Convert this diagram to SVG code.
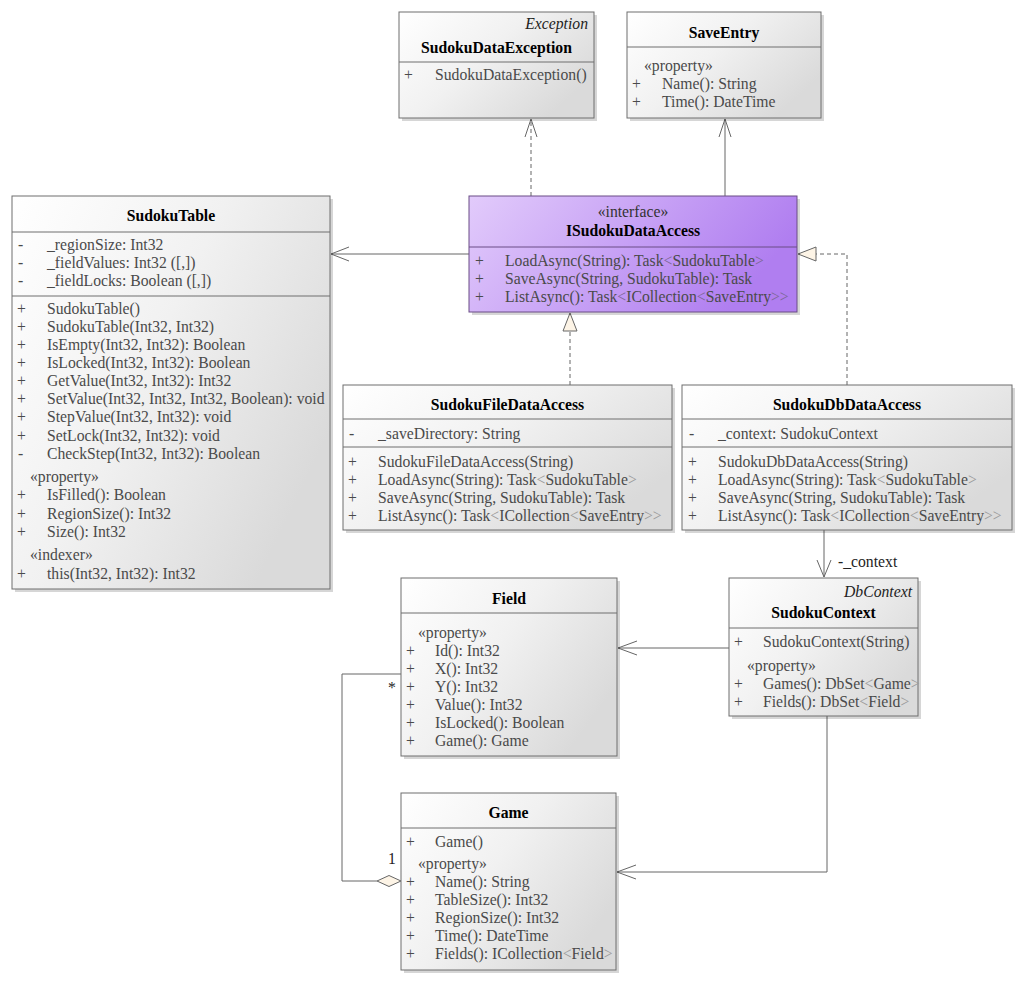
<svg xmlns="http://www.w3.org/2000/svg" width="1024" height="983" viewBox="0 0 1024 983">
<defs>
<linearGradient id="g" x1="0" y1="0" x2="1" y2="0.6">
<stop offset="0" stop-color="#ffffff"/>
<stop offset="0.5" stop-color="#f1f1f1"/>
<stop offset="1" stop-color="#dadada"/>
</linearGradient>
<linearGradient id="gp" x1="0" y1="0" x2="1" y2="0.3">
<stop offset="0" stop-color="#e2cbfb"/>
<stop offset="1" stop-color="#b07ef0"/>
</linearGradient>
</defs>
<style>
.box{fill:url(#g);stroke:#6e6e6e;stroke-width:1}
.pbox{fill:url(#gp);stroke:#6a4d86;stroke-width:1}
.sh{fill:#000;opacity:0.16}
.dv{stroke:#6e6e6e;stroke-width:1}
.pdv{stroke:#6a4d86;stroke-width:1}
text{font-family:"Liberation Serif","Times New Roman",serif;font-size:15.7px;fill:#4a4a4a}
.b{font-weight:bold;fill:#000;text-anchor:middle}
.i{font-style:italic;fill:#222;text-anchor:end}
.c{text-anchor:middle}
.lt{fill:#9a9a9a}
.plt{fill:#7d6896}
.ln{stroke:#666;stroke-width:1;fill:none}
.da{stroke-dasharray:4 3}
.tri{fill:#fdf4e6;stroke:#666;stroke-width:1}
.lbl{fill:#222}
</style>
<rect width="1024" height="983" fill="#fff"/>

<g id="connectors">
<path class="ln da" d="M531,196 V119"/>
<path class="ln" d="M525,137 L531,119 L537,137"/>
<path class="ln" d="M725,196 V119"/>
<path class="ln" d="M719,137 L725,119 L731,137"/>
<path class="ln" d="M469,254 H331"/>
<path class="ln" d="M349,247 L331,254 L349,261"/>
<path class="ln da" d="M570,385 V331"/>
<path class="tri" d="M570,313 L577,331 L563,331 Z"/>
<path class="ln da" d="M847,385 V254 H816"/>
<path class="tri" d="M798,254 L816,247 L816,261 Z"/>
<path class="ln" d="M824,530 V577"/>
<path class="ln" d="M817,560 L824,577 L831,560"/>
<text class="lbl" x="838" y="567">-_context</text>
<path class="ln" d="M729,648 H618"/>
<path class="ln" d="M637,641 L618,648 L637,655"/>
<path class="ln" d="M827,716 V872 H617"/>
<path class="ln" d="M636,865 L617,872 L636,879"/>
<path class="ln" d="M401,674 H342 V881 H377"/>
<path class="tri" d="M377,881 L389,875.5 L401,881 L389,886.5 Z"/>
<text class="lbl" x="388" y="693">*</text>
<text class="lbl" x="388" y="864">1</text>
</g>

<g id="SudokuDataException">
<rect class="sh" x="402" y="15" width="195" height="106"/>
<rect class="box" x="399" y="12" width="195" height="106"/>
<line class="dv" x1="399" y1="62" x2="594" y2="62"/>
<text class="i" x="588" y="29">Exception</text>
<text class="b" x="496.5" y="53">SudokuDataException</text>
<text x="404" y="80">+</text><text x="435" y="80">SudokuDataException()</text>
</g>

<g id="SaveEntry">
<rect class="sh" x="630" y="15" width="194" height="106"/>
<rect class="box" x="627" y="12" width="194" height="106"/>
<line class="dv" x1="627" y1="47" x2="821" y2="47"/>
<text class="b" x="724" y="38">SaveEntry</text>
<text x="644" y="71">«property»</text>
<text x="632" y="89">+</text><text x="662" y="89">Name(): String</text>
<text x="632" y="107">+</text><text x="662" y="107">Time(): DateTime</text>
</g>

<g id="SudokuTable">
<rect class="sh" x="15" y="199" width="318" height="393"/>
<rect class="box" x="12" y="196" width="318" height="393"/>
<line class="dv" x1="12" y1="232" x2="330" y2="232"/>
<line class="dv" x1="12" y1="296" x2="330" y2="296"/>
<text class="b" x="171" y="221">SudokuTable</text>
<text x="18" y="250">-</text><text x="47" y="250">_regionSize: Int32</text>
<text x="18" y="268">-</text><text x="47" y="268">_fieldValues: Int32 ([,])</text>
<text x="18" y="286">-</text><text x="47" y="286">_fieldLocks: Boolean ([,])</text>
<text x="17" y="314">+</text><text x="47" y="314">SudokuTable()</text>
<text x="17" y="332">+</text><text x="47" y="332">SudokuTable(Int32, Int32)</text>
<text x="17" y="350">+</text><text x="47" y="350">IsEmpty(Int32, Int32): Boolean</text>
<text x="17" y="368">+</text><text x="47" y="368">IsLocked(Int32, Int32): Boolean</text>
<text x="17" y="386">+</text><text x="47" y="386">GetValue(Int32, Int32): Int32</text>
<text x="17" y="404">+</text><text x="47" y="404">SetValue(Int32, Int32, Int32, Boolean): void</text>
<text x="17" y="422">+</text><text x="47" y="422">StepValue(Int32, Int32): void</text>
<text x="17" y="441">+</text><text x="47" y="441">SetLock(Int32, Int32): void</text>
<text x="18" y="459">-</text><text x="47" y="459">CheckStep(Int32, Int32): Boolean</text>
<text x="30" y="482">«property»</text>
<text x="17" y="500">+</text><text x="47" y="500">IsFilled(): Boolean</text>
<text x="17" y="519">+</text><text x="47" y="519">RegionSize(): Int32</text>
<text x="17" y="537">+</text><text x="47" y="537">Size(): Int32</text>
<text x="30" y="560">«indexer»</text>
<text x="17" y="579">+</text><text x="47" y="579">this(Int32, Int32): Int32</text>
</g>

<g id="ISudokuDataAccess">
<rect class="sh" x="472" y="199" width="328" height="116"/>
<rect class="pbox" x="469" y="196" width="328" height="116"/>
<line class="pdv" x1="469" y1="247" x2="797" y2="247"/>
<text class="c" x="633" y="217" style="fill:#333">«interface»</text>
<text class="b" x="633" y="236">ISudokuDataAccess</text>
<text x="475" y="266">+</text><text x="505" y="266">LoadAsync(String): Task<tspan class="plt">&lt;</tspan>SudokuTable<tspan class="plt">&gt;</tspan></text>
<text x="475" y="284">+</text><text x="505" y="284">SaveAsync(String, SudokuTable): Task</text>
<text x="475" y="302">+</text><text x="505" y="302">ListAsync(): Task<tspan class="plt">&lt;</tspan>ICollection<tspan class="plt">&lt;</tspan>SaveEntry<tspan class="plt">&gt;&gt;</tspan></text>
</g>

<g id="SudokuFileDataAccess">
<rect class="sh" x="346" y="388" width="329" height="145"/>
<rect class="box" x="343" y="385" width="329" height="145"/>
<line class="dv" x1="343" y1="419" x2="672" y2="419"/>
<line class="dv" x1="343" y1="447" x2="672" y2="447"/>
<text class="b" x="507.5" y="410">SudokuFileDataAccess</text>
<text x="349" y="439">-</text><text x="378" y="439">_saveDirectory: String</text>
<text x="348" y="467">+</text><text x="378" y="467">SudokuFileDataAccess(String)</text>
<text x="348" y="485">+</text><text x="378" y="485">LoadAsync(String): Task<tspan class="lt">&lt;</tspan>SudokuTable<tspan class="lt">&gt;</tspan></text>
<text x="348" y="503">+</text><text x="378" y="503">SaveAsync(String, SudokuTable): Task</text>
<text x="348" y="521">+</text><text x="378" y="521">ListAsync(): Task<tspan class="lt">&lt;</tspan>ICollection<tspan class="lt">&lt;</tspan>SaveEntry<tspan class="lt">&gt;&gt;</tspan></text>
</g>

<g id="SudokuDbDataAccess">
<rect class="sh" x="685" y="388" width="330" height="145"/>
<rect class="box" x="682" y="385" width="330" height="145"/>
<line class="dv" x1="682" y1="419" x2="1012" y2="419"/>
<line class="dv" x1="682" y1="447" x2="1012" y2="447"/>
<text class="b" x="847" y="410">SudokuDbDataAccess</text>
<text x="689" y="439">-</text><text x="718" y="439">_context: SudokuContext</text>
<text x="688" y="467">+</text><text x="718" y="467">SudokuDbDataAccess(String)</text>
<text x="688" y="485">+</text><text x="718" y="485">LoadAsync(String): Task<tspan class="lt">&lt;</tspan>SudokuTable<tspan class="lt">&gt;</tspan></text>
<text x="688" y="503">+</text><text x="718" y="503">SaveAsync(String, SudokuTable): Task</text>
<text x="688" y="521">+</text><text x="718" y="521">ListAsync(): Task<tspan class="lt">&lt;</tspan>ICollection<tspan class="lt">&lt;</tspan>SaveEntry<tspan class="lt">&gt;&gt;</tspan></text>
</g>

<g id="Field">
<rect class="sh" x="404" y="581" width="216" height="178"/>
<rect class="box" x="401" y="578" width="216" height="178"/>
<line class="dv" x1="401" y1="613" x2="617" y2="613"/>
<text class="b" x="509" y="604">Field</text>
<text x="418" y="638">«property»</text>
<text x="406" y="656">+</text><text x="435" y="656">Id(): Int32</text>
<text x="406" y="674">+</text><text x="435" y="674">X(): Int32</text>
<text x="406" y="692">+</text><text x="435" y="692">Y(): Int32</text>
<text x="406" y="710">+</text><text x="435" y="710">Value(): Int32</text>
<text x="406" y="728">+</text><text x="435" y="728">IsLocked(): Boolean</text>
<text x="406" y="746">+</text><text x="435" y="746">Game(): Game</text>
</g>

<g id="SudokuContext">
<rect class="sh" x="732" y="581" width="189" height="138"/>
<rect class="box" x="729" y="578" width="189" height="138"/>
<line class="dv" x1="729" y1="628" x2="918" y2="628"/>
<text class="i" x="912" y="597">DbContext</text>
<text class="b" x="823.5" y="618">SudokuContext</text>
<text x="734" y="647">+</text><text x="763" y="647">SudokuContext(String)</text>
<text x="747" y="671">«property»</text>
<text x="734" y="689">+</text><text x="763" y="689">Games(): DbSet<tspan class="lt">&lt;</tspan>Game<tspan class="lt">&gt;</tspan></text>
<text x="734" y="707">+</text><text x="763" y="707">Fields(): DbSet<tspan class="lt">&lt;</tspan>Field<tspan class="lt">&gt;</tspan></text>
</g>

<g id="Game">
<rect class="sh" x="404" y="796" width="215" height="177"/>
<rect class="box" x="401" y="793" width="215" height="177"/>
<line class="dv" x1="401" y1="828" x2="616" y2="828"/>
<text class="b" x="508.5" y="818">Game</text>
<text x="406" y="847">+</text><text x="435" y="847">Game()</text>
<text x="418" y="869">«property»</text>
<text x="406" y="887">+</text><text x="435" y="887">Name(): String</text>
<text x="406" y="905">+</text><text x="435" y="905">TableSize(): Int32</text>
<text x="406" y="923">+</text><text x="435" y="923">RegionSize(): Int32</text>
<text x="406" y="941">+</text><text x="435" y="941">Time(): DateTime</text>
<text x="406" y="959">+</text><text x="435" y="959">Fields(): ICollection<tspan class="lt">&lt;</tspan>Field<tspan class="lt">&gt;</tspan></text>
</g>
</svg>
